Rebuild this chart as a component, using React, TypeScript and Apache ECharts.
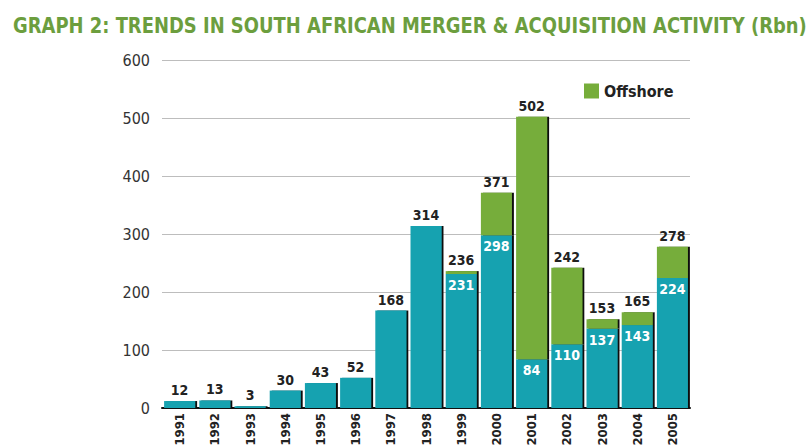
import React, { useEffect, useRef } from "react";
import * as echarts from "echarts";

const years = ["1991", "1992", "1993", "1994", "1995", "1996", "1997", "1998", "1999", "2000", "2001", "2002", "2003", "2004", "2005"];
const domestic = [12, 13, 3, 30, 43, 52, 168, 314, 231, 298, 84, 110, 137, 143, 224];
const offshore = [0, 0, 0, 0, 0, 0, 0, 0, 5, 73, 418, 132, 16, 22, 54];
const yMin = 0;
const yMax = 600;
const yStep = 100;

const TITLE = "GRAPH 2: TRENDS IN SOUTH AFRICAN MERGER & ACQUISITION ACTIVITY (Rbn)";
const TEAL = "#17a2b0";
const GREEN = "#76ad3a";
const TITLE_GREEN = "#6c9e3e";
const NARROW = "'Liberation Sans Narrow', 'DejaVu Sans Condensed', 'Liberation Sans', sans-serif";

function measure(font: string, text: string): number {
  const c = document.createElement("canvas").getContext("2d");
  if (!c) return 794;
  c.font = font;
  return c.measureText(text).width || 794;
}

export default function App() {
  const ref = useRef<HTMLDivElement>(null);
  useEffect(() => {
    document.body.style.margin = "0";
    if (!ref.current) return;
    const chart = echarts.init(ref.current, undefined, { renderer: "svg" });
    const titleFont = `bold 22px ${NARROW}`;
    const tw = measure(titleFont, TITLE);
    const sx = 794 / tw;

    const shadow = { shadowColor: "#111", shadowOffsetX: 2, shadowOffsetY: 0, shadowBlur: 0 };

    chart.setOption({
      animation: false,
      backgroundColor: "#fff",
      graphic: [
        {
          type: "text",
          x: 13,
          y: 26,
          scaleX: sx,
          style: {
            text: TITLE,
            font: titleFont,
            fill: TITLE_GREEN,
            verticalAlign: "middle",
          },
        },
      ],
      legend: {
        data: ["Offshore"],
        left: 579,
        top: 78,
        itemWidth: 15,
        itemHeight: 15,
        icon: "rect",
        textStyle: { fontFamily: NARROW, fontSize: 16, fontWeight: "bold", color: "#222" },
      },
      grid: { left: 162, right: 119, top: 60, bottom: 40, containLabel: false, outerBoundsMode: "none" },
      xAxis: {
        type: "category",
        data: years,
        axisTick: { show: false },
        axisLine: { lineStyle: { color: "#111", width: 2 } },
        axisLabel: { rotate: 90, margin: 5, fontFamily: NARROW, fontSize: 13, fontWeight: "bold", color: "#222", interval: 0 },
      },
      yAxis: {
        type: "value",
        min: yMin,
        max: yMax,
        interval: yStep,
        axisLine: { show: false },
        axisTick: { show: false },
        splitLine: { lineStyle: { color: "#bdbdbd", width: 1 } },
        axisLabel: { margin: 12, fontFamily: NARROW, fontSize: 16, color: "#333" },
      },
      series: [
        {
          name: "Domestic",
          type: "bar",
          stack: "ma",
          barWidth: 31,
          itemStyle: { color: TEAL, ...shadow },
          data: domestic.map((v, i) =>
            offshore[i] > 0
              ? {
                  value: v,
                  label: { show: true, position: "insideTop", distance: 4, color: "#fff", fontWeight: "bold", fontSize: 14, fontFamily: NARROW },
                }
              : {
                  value: v,
                  label: { show: true, position: "top", distance: 4, color: "#222", fontWeight: "bold", fontSize: 14, fontFamily: NARROW },
                }
          ),
        },
        {
          name: "Offshore",
          type: "bar",
          stack: "ma",
          barWidth: 31,
          itemStyle: { color: GREEN, ...shadow },
          label: {
            show: true,
            position: "top",
            distance: 4,
            color: "#222",
            fontWeight: "bold",
            fontSize: 14,
            fontFamily: NARROW,
            formatter: (p: any) => String(domestic[p.dataIndex] + offshore[p.dataIndex]),
          },
          data: offshore.map((v) => (v > 0 ? v : "-")),
        },
      ],
    });
    return () => chart.dispose();
  }, []);
  return <div ref={ref} style={{ width: 809, height: 448 }} />;
}
